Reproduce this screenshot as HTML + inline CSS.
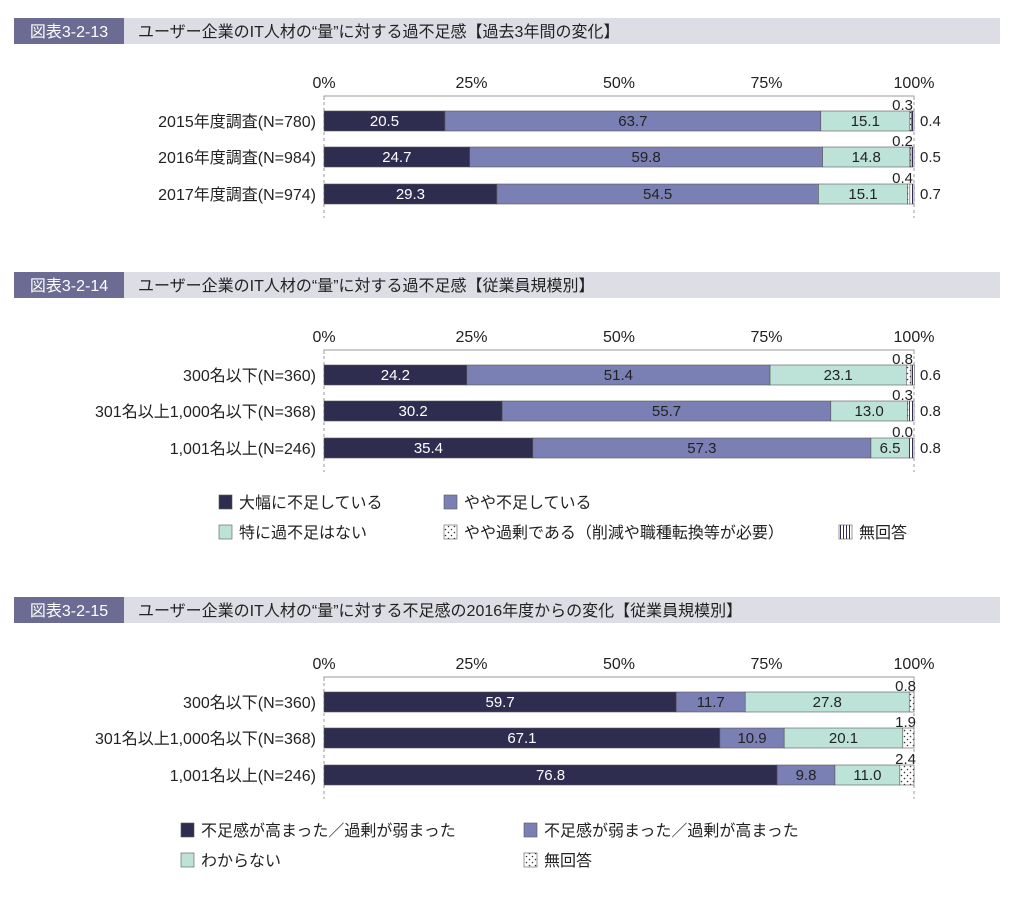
<!DOCTYPE html>
<html><head><meta charset="utf-8">
<style>
body{margin:0;background:#fff;width:1024px;height:913px;overflow:hidden;font-family:"Liberation Sans","Noto Sans CJK JP",sans-serif;}
svg{display:block}
</style></head>
<body>
<svg id="c" width="1024" height="913" xmlns="http://www.w3.org/2000/svg">
<defs>
<pattern id="dots" width="6" height="6" patternUnits="userSpaceOnUse"><rect width="6" height="6" fill="#fff"/><circle cx="1.5" cy="1.5" r="0.8" fill="#333"/><circle cx="4.5" cy="4.5" r="0.8" fill="#333"/></pattern>
<pattern id="vlines" width="3" height="6" patternUnits="userSpaceOnUse"><rect width="3" height="6" fill="#fff"/><rect width="1" height="6" fill="#2e2d50"/></pattern>
</defs>
</svg>
<script>
const titles1=["ユーザー企業のIT人材の“量”に対する過不足感【過去3年間の変化】","ユーザー企業のIT人材の“量”に対する過不足感【従業員規模別】","ユーザー企業のIT人材の“量”に対する不足感の2016年度からの変化【従業員規模別】"];
const figIds=["図表3-2-13","図表3-2-14","図表3-2-15"];
const ticks=["0%","25%","50%","75%","100%"];
const cats1=["2015年度調査(N=780)","2016年度調査(N=984)","2017年度調査(N=974)"];
const cats2=["300名以下(N=360)","301名以上1,000名以下(N=368)","1,001名以上(N=246)"];
const cats3=["300名以下(N=360)","301名以上1,000名以下(N=368)","1,001名以上(N=246)"];
const vals1=[[20.5,63.7,15.1,0.3,0.4],[24.7,59.8,14.8,0.2,0.5],[29.3,54.5,15.1,0.4,0.7]];
const vals2=[[24.2,51.4,23.1,0.8,0.6],[30.2,55.7,13.0,0.3,0.8],[35.4,57.3,6.5,0.0,0.8]];
const vals3=[[59.7,11.7,27.8,0.8],[67.1,10.9,20.1,1.9],[76.8,9.8,11.0,2.4]];
const legend1=["大幅に不足している","やや不足している","特に過不足はない","やや過剰である（削減や職種転換等が必要）","無回答"];
const legend3=["不足感が高まった／過剰が弱まった","不足感が弱まった／過剰が高まった","わからない","無回答"];
const fills5=["#2e2d50","#7a80b4","#bde3d9","url(#dots)","url(#vlines)"];
const fills4=["#2e2d50","#7a80b4","#bde3d9","url(#dots)"];
const svg=document.getElementById('c');
const NS="http://www.w3.org/2000/svg";
const X0=324,X1=914;
const xs=v=>X0+(X1-X0)*v/100;
function mk(tag,attrs,txt){const e=document.createElementNS(NS,tag);for(const k in attrs)e.setAttribute(k,attrs[k]);if(txt!==undefined)e.textContent=txt;svg.appendChild(e);return e;}
function header(i,y){
 const a=mk('rect',{x:14,y:y,width:110,height:26,fill:'#6b6b93'});
 
 
 const b=mk('rect',{x:124,y:y,width:876,height:26,fill:'#dddde5'});
 
 
 const t=mk('text',{x:69,y:y+19,'text-anchor':'middle','font-size':16,fill:'#fff'},figIds[i]);
 
 
 const t2=mk('text',{x:138,y:y+19,'font-size':16,fill:'#222'},titles1[i]);
 
 
}
function chart(cats,vals,fills,axisY,rowY,smallMode){
 ticks.forEach((t,i)=>{const e=mk('text',{x:xs(i*25),y:axisY-8,'text-anchor':'middle','font-size':16,fill:'#222'},t);
  
  });
 const ax=mk('path',{d:`M${X0} ${axisY+4}V${axisY}H${X1}V${axisY+4}`,stroke:'#999',fill:'none'});
 
 
 const bottom=rowY[rowY.length-1]+24;
 [X0,X1].forEach(x=>{const l=mk('line',{x1:x,y1:axisY,x2:x,y2:bottom,stroke:'#999','stroke-dasharray':'3,3'});
  
  });
 cats.forEach((c,r)=>{
  const y=rowY[r]-10;
  const cl=mk('text',{x:316,y:y+16,'text-anchor':'end','font-size':16,fill:'#222'},c);
  
  
  let acc=0;
  vals[r].forEach((v,s)=>{
   const x=xs(acc),w=xs(acc+v)-x;acc+=v;
   const rc=mk('rect',{x:x,y:y,width:Math.max(w,0),height:20,fill:fills[s],stroke:'#555','stroke-width':0.6});
   
   
   if(v>=3){const tl=mk('text',{x:x+w/2,y:y+15,'text-anchor':'middle','font-size':15,fill:s==0?'#fff':'#222'},v.toFixed(1));
    
    }
  });
  const n=vals[r].length;
  if(smallMode==5){
   const a=mk('text',{x:X1-1,y:y-1,'text-anchor':'end','font-size':15,fill:'#222'},vals[r][3].toFixed(1));
   
   
   const b=mk('text',{x:X1+6,y:y+15,'font-size':15,fill:'#222'},vals[r][4].toFixed(1));
   
   
  } else {
   const a=mk('text',{x:X1+2,y:y-1,'text-anchor':'end','font-size':15,fill:'#222'},vals[r][n-1].toFixed(1));
   
   
  }
 });
}
function legend(items,fills,pos){
 items.forEach((t,i)=>{const [x,y]=pos[i];
  const r=mk('rect',{x:x,y:y-7,width:13,height:14,fill:fills[i],stroke:'#555','stroke-width':0.6});
  
  
  const tx=mk('text',{x:x+20,y:y+6,'font-size':16,fill:'#222'},t);
  
  });
}
header(0,18);
chart(cats1,vals1,fills5,96,[121,157,194],5);
header(1,272);
chart(cats2,vals2,fills5,350,[375,411,448],5);
legend(legend1,fills5,[[219,502],[444,502],[219,532],[444,532],[839,532]]);
header(2,597);
chart(cats3,vals3,fills4,677,[702,738,775],4);
legend(legend3,fills4,[[181,830],[524,830],[181,860],[524,860]]);
</script>
</body></html>
